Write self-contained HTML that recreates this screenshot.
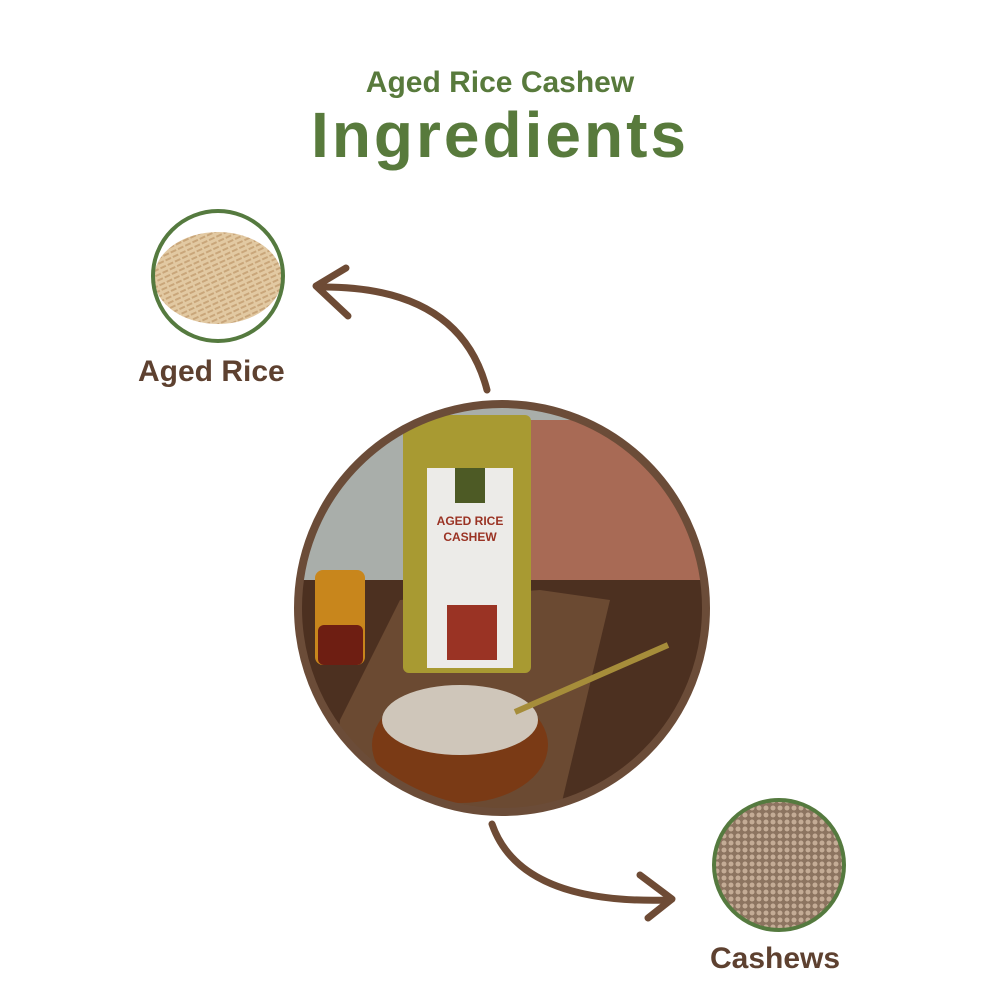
<!DOCTYPE html>
<html><head><meta charset="utf-8"><style>
html,body{margin:0;padding:0;background:#fff;}
body{width:1000px;height:1000px;position:relative;overflow:hidden;font-family:"Liberation Sans",sans-serif;}
.t{position:absolute;left:0;width:1000px;text-align:center;color:#587a3c;font-weight:bold;}
.l{position:absolute;color:#5e4130;font-weight:bold;font-size:30px;}
</style></head><body>
<div class="t" style="top:66px;font-size:30px;">Aged Rice Cashew</div>
<div class="t" style="top:98px;font-size:64px;letter-spacing:3px;">Ingredients</div>
<svg width="1000" height="1000" style="position:absolute;left:0;top:0">
<defs>
<clipPath id="c1"><circle cx="502" cy="608" r="202"/></clipPath>
<clipPath id="c2"><circle cx="218" cy="276" r="64"/></clipPath>
<clipPath id="c3"><circle cx="779" cy="865" r="64"/></clipPath>
<pattern id="rice" width="8" height="5" patternUnits="userSpaceOnUse" patternTransform="rotate(-25)"><rect width="8" height="5" fill="#e2c9a2"/><rect width="6" height="2" fill="#c9a67a"/></pattern>
<pattern id="cash" width="7" height="7" patternUnits="userSpaceOnUse"><rect width="7" height="7" fill="#8c7460"/><circle cx="3" cy="3" r="2.5" fill="#c4ac96"/></pattern>
</defs>
<g clip-path="url(#c2)"><rect x="150" y="210" width="140" height="140" fill="#fff"/><ellipse cx="218" cy="278" rx="64" ry="46" fill="url(#rice)"/></g>
<circle cx="218" cy="276" r="65" fill="none" stroke="#557a3f" stroke-width="4"/>
<g clip-path="url(#c3)"><rect x="710" y="795" width="140" height="140" fill="url(#cash)"/></g>
<circle cx="779" cy="865" r="65" fill="none" stroke="#557a3f" stroke-width="4"/>
<g clip-path="url(#c1)">
<rect x="290" y="400" width="420" height="200" fill="#a9aeaa"/>
<rect x="530" y="420" width="180" height="160" fill="#a86a55"/>
<rect x="290" y="580" width="420" height="240" fill="#4c3020"/>
<polygon points="340,720 400,600 540,590 610,600 560,810 330,810" fill="#6b4a32"/>
<rect x="403" y="415" width="128" height="258" rx="6" fill="#a89a32"/>
<rect x="427" y="468" width="86" height="200" fill="#ecebe8"/>
<rect x="447" y="605" width="50" height="55" fill="#9a3324"/>
<rect x="455" y="468" width="30" height="35" fill="#4d5a25"/>
<text x="470" y="525" font-size="12" font-weight="bold" fill="#9a3324" text-anchor="middle">AGED RICE</text>
<text x="470" y="541" font-size="12" font-weight="bold" fill="#9a3324" text-anchor="middle">CASHEW</text>
<rect x="315" y="570" width="50" height="95" rx="8" fill="#c8861c"/>
<rect x="318" y="625" width="45" height="40" rx="6" fill="#6e1e12"/>
<ellipse cx="460" cy="745" rx="88" ry="58" fill="#7a3a15"/>
<ellipse cx="460" cy="720" rx="78" ry="35" fill="#cfc6ba"/>
<line x1="515" y1="712" x2="668" y2="645" stroke="#a68d3a" stroke-width="6"/>
</g>
<circle cx="502" cy="608" r="204" fill="none" stroke="#6b4c38" stroke-width="8"/>
<g fill="none" stroke="#6e4b35" stroke-width="7" stroke-linecap="round" stroke-linejoin="round">
<path d="M487,390 Q460,285 318,287"/>
<path d="M346,268 L316,286 L348,316"/>
<path d="M492,824 Q520,905 670,900"/>
<path d="M640,875 L672,899 L648,918"/>
</g>
</svg>
<div class="l" style="left:138px;top:355px;">Aged Rice</div>
<div class="l" style="left:710px;top:942px;">Cashews</div>
</body></html>
